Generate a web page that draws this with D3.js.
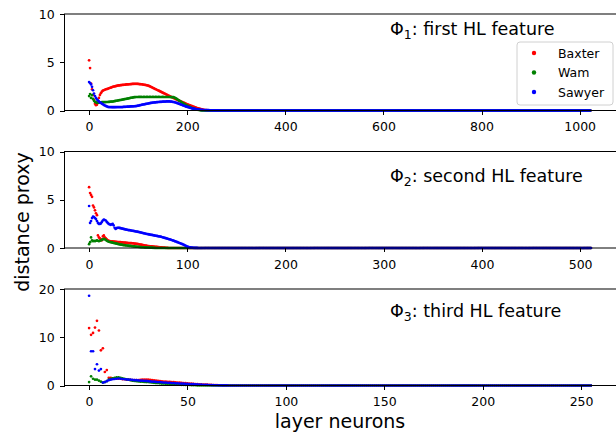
<!DOCTYPE html>
<meta charset="utf-8">
<style>
  body { margin: 0; background: #fff; }
  svg text { font-family: "DejaVu Sans", sans-serif; fill: #000; }
  .axis path, .axis line { stroke: #000; shape-rendering: crispEdges; }
  .axis text { font-size: 12.5px; }
</style>
<script src="https://d3js.org/d3.v7.min.js"></script>
<div id="chart"></div>
<script>

// robots and their colours (red, green, blue as in matplotlib 'r', 'g', 'b')
var robots = ["Baxter", "Wam", "Sawyer"];
var robotColors = ["#ff0000", "#008000", "#0000ff"];

// ---- first hidden layer: 1024 neurons, one value every 2 neurons, zero after the listed values
var neurons1 = 1024, step1 = 2;
var baxter1 = [5.2,4.4,2.8,2.2,1.6,1.1,0.7,0.55,0.6,0.9,
  1.3,1.6,1.8,1.95,2.05,2.1,2.15,2.2,2.22,2.25,
  2.3,2.33,2.37,2.4,2.45,2.48,2.5,2.52,2.55,2.57,
  2.6,2.6,2.62,2.63,2.65,2.66,2.67,2.68,2.7,2.7,
  2.71,2.72,2.73,2.74,2.75,2.75,2.76,2.76,2.76,2.76,
  2.75,2.74,2.73,2.72,2.71,2.69,2.67,2.65,2.63,2.61,
  2.58,2.55,2.5,2.45,2.4,2.35,2.3,2.25,2.2,2.15,
  2.1,2.05,2.0,1.95,1.9,1.85,1.8,1.75,1.7,1.65,
  1.6,1.55,1.5,1.45,1.4,1.35,1.3,1.25,1.2,1.15,
  1.1,1.05,1.0,0.96,0.91,0.87,0.82,0.78,0.73,0.69,
  0.65,0.61,0.57,0.53,0.49,0.45,0.41,0.37,0.33,0.29,
  0.26,0.23,0.2,0.17,0.14,0.11,0.09,0.07,0.05,0.04,
  0.03,0.02,0.01];
var wam1 = [1.5,1.7,1.3,1.6,1.2,1.0,0.9,0.85,0.8,0.8,
  0.82,0.84,0.85,0.86,0.87,0.87,0.87,0.87,0.88,0.88,
  0.89,0.9,0.91,0.92,0.93,0.95,0.97,0.99,1.01,1.03,
  1.05,1.07,1.09,1.11,1.13,1.15,1.17,1.19,1.21,1.23,
  1.25,1.27,1.3,1.32,1.34,1.36,1.38,1.39,1.4,1.4,
  1.4,1.41,1.4,1.41,1.4,1.4,1.41,1.4,1.4,1.41,
  1.4,1.4,1.41,1.4,1.4,1.41,1.4,1.4,1.41,1.4,
  1.4,1.41,1.4,1.4,1.4,1.41,1.4,1.4,1.4,1.4,
  1.4,1.4,1.4,1.39,1.39,1.38,1.38,1.34,1.29,1.23,
  1.16,1.09,1.02,0.95,0.88,0.81,0.74,0.68,0.62,0.56,
  0.5,0.45,0.4,0.35,0.3,0.26,0.22,0.18,0.15,0.12,
  0.09,0.07,0.05,0.03,0.02,0.01];
var sawyer1 = [2.95,2.85,2.7,2.45,2.1,1.75,1.5,1.3,1.15,1.05,
  0.95,0.85,0.78,0.72,0.65,0.58,0.52,0.47,0.42,0.38,
  0.36,0.35,0.35,0.34,0.34,0.34,0.34,0.34,0.35,0.35,
  0.35,0.35,0.36,0.36,0.36,0.37,0.38,0.38,0.39,0.4,
  0.4,0.41,0.42,0.42,0.43,0.43,0.44,0.45,0.46,0.48,
  0.5,0.52,0.55,0.57,0.6,0.62,0.64,0.66,0.68,0.7,
  0.72,0.74,0.76,0.78,0.8,0.82,0.83,0.84,0.85,0.86,
  0.87,0.88,0.89,0.9,0.9,0.91,0.92,0.93,0.93,0.94,
  0.94,0.94,0.94,0.93,0.92,0.9,0.88,0.86,0.83,0.8,
  0.76,0.72,0.68,0.64,0.6,0.56,0.52,0.48,0.44,0.4,
  0.37,0.34,0.31,0.28,0.25,0.22,0.2,0.18,0.16,0.14,
  0.12,0.1,0.09,0.08,0.07,0.06,0.05,0.05,0.04,0.04,
  0.03,0.03,0.03,0.02,0.02,0.02,0.02,0.01,0.01,0.01,
  0.01,0.01,0.01];

// ---- second hidden layer: 512 neurons, one value per neuron
var neurons2 = 512, step2 = 1;
var baxter2 = [6.3,5.7,5.5,5.3,4.4,4.2,3.9,3.6,3.4,1.3,
  1.1,1.0,0.9,0.8,1.2,1.3,1.1,1.0,0.9,0.8,
  0.75,0.72,0.7,0.7,0.68,0.66,0.66,0.65,0.64,0.62,
  0.62,0.6,0.6,0.58,0.58,0.56,0.56,0.55,0.54,0.53,
  0.52,0.52,0.5,0.5,0.48,0.48,0.46,0.45,0.44,0.42,
  0.4,0.38,0.36,0.34,0.32,0.3,0.28,0.26,0.24,0.22,
  0.2,0.19,0.18,0.17,0.16,0.15,0.14,0.13,0.12,0.11,
  0.1,0.09,0.08,0.07,0.06,0.05,0.04,0.03,0.02,0.02,
  0.01];
var wam2 = [0.4,0.6,1.1,0.8,0.7,0.75,0.7,0.75,0.8,0.75,
  0.7,0.75,0.8,0.85,0.9,0.95,0.9,0.85,0.75,0.7,
  0.65,0.62,0.6,0.58,0.55,0.52,0.5,0.48,0.45,0.43,
  0.4,0.38,0.36,0.34,0.32,0.3,0.29,0.28,0.26,0.25,
  0.24,0.22,0.21,0.2,0.18,0.17,0.16,0.15,0.14,0.13,
  0.12,0.11,0.1,0.09,0.08,0.08,0.07,0.06,0.06,0.05,
  0.05,0.04,0.04,0.03,0.03,0.02,0.02,0.01];
var sawyer2 = [4.35,2.6,2.8,3.1,3.25,3.2,3.1,3.0,2.8,2.6,
  2.5,2.5,2.55,2.7,2.85,2.95,2.9,2.85,2.7,2.6,
  2.5,2.45,2.4,2.45,2.5,2.35,2.1,1.97,2.05,2.1,
  2.1,2.08,2.05,2.03,2.0,1.98,1.95,1.93,1.9,1.88,
  1.86,1.85,1.83,1.81,1.79,1.77,1.75,1.73,1.71,1.69,
  1.67,1.65,1.62,1.6,1.57,1.55,1.52,1.5,1.47,1.45,
  1.43,1.41,1.39,1.37,1.35,1.33,1.31,1.29,1.27,1.25,
  1.23,1.21,1.19,1.17,1.14,1.11,1.08,1.05,1.02,0.99,
  0.96,0.93,0.9,0.87,0.83,0.8,0.76,0.72,0.68,0.64,
  0.6,0.56,0.52,0.48,0.44,0.4,0.35,0.3,0.25,0.2,
  0.15,0.11,0.08,0.06,0.04,0.03,0.02,0.02,0.01,0.01,
  0.01];

// ---- third hidden layer: 256 neurons, one value per neuron
var neurons3 = 256, step3 = 1;
var baxter3 = [11.9,10.5,10.9,12.0,13.4,11.4,7.3,7.7,2.8,3.2,
  1.6,1.6,1.5,1.5,1.4,1.4,1.4,1.3,1.3,1.2,
  1.2,1.15,1.1,1.1,1.1,1.1,1.15,1.2,1.2,1.2,
  1.2,1.15,1.1,1.05,1.0,0.95,0.9,0.85,0.8,0.8,
  0.75,0.75,0.7,0.7,0.65,0.6,0.6,0.55,0.5,0.5,
  0.45,0.4,0.4,0.35,0.3,0.3,0.25,0.25,0.2,0.2,
  0.2,0.15,0.15,0.1,0.1,0.1,0.05,0.05];
var wam3 = [0.7,1.9,1.4,1.2,1.2,1.0,0.8,0.6,0.7,0.9,
  1.2,1.4,1.5,1.6,1.7,1.7,1.6,1.5,1.4,1.3,
  1.2,1.1,1.0,0.95,0.9,0.85,0.8,0.8,0.75,0.7,
  0.7,0.65,0.6,0.55,0.5,0.5,0.45,0.4,0.4,0.35,
  0.35,0.3,0.3,0.25,0.25,0.2,0.2,0.15,0.15,0.1,
  0.1,0.1,0.05,0.05,0.05];
var sawyer3 = [18.6,7.1,7.1,3.4,4.4,3.1,3.4,0.6,0.7,0.9,
  1.1,1.2,1.3,1.35,1.4,1.45,1.4,1.35,1.3,1.25,
  1.2,1.2,1.15,1.1,1.1,1.05,1.0,1.0,0.95,0.95,
  0.9,0.85,0.8,0.8,0.75,0.7,0.7,0.65,0.6,0.6,
  0.55,0.55,0.5,0.5,0.45,0.45,0.4,0.4,0.38,0.35,
  0.33,0.3,0.3,0.28,0.25,0.22,0.2,0.18,0.16,0.14,
  0.12,0.1,0.08,0.06,0.05,0.04,0.03,0.02,0.02,0.01,
  0.01];

// axis ticks and titles
var xTicks1 = [0, 200, 400, 600, 800, 1000];
var xTicks2 = [0, 100, 200, 300, 400, 500];
var xTicks3 = [0, 50, 100, 150, 200, 250];
var yTicks1 = [0, 5, 10], yTicks2 = [0, 5, 10], yTicks3 = [0, 10, 20];
var yMax1 = 10, yMax2 = 10, yMax3 = 20;
var titles = [["1", ": first HL feature"], ["2", ": second HL feature"], ["3", ": third HL feature"]];

var panels = [
  {n: neurons1, step: step1, series: [baxter1, wam1, sawyer1], xTicks: xTicks1, yTicks: yTicks1, yMax: yMax1, title: titles[0]},
  {n: neurons2, step: step2, series: [baxter2, wam2, sawyer2], xTicks: xTicks2, yTicks: yTicks2, yMax: yMax2, title: titles[1]},
  {n: neurons3, step: step3, series: [baxter3, wam3, sawyer3], xTicks: xTicks3, yTicks: yTicks3, yMax: yMax3, title: titles[2]}
];

var width = 616, height = 435;
var left = 64, right = 616;
var tops = [14, 151.5, 289], panelH = 96.5;
var titleDy = [21, 30.5, 28];

var svg = d3.select("#chart").append("svg")
  .attr("width", width)
  .attr("height", height);

panels.forEach(function(p, k) {
  var top = tops[k], bottom = top + panelH;
  var last = p.n - 1;
  var x = d3.scaleLinear().domain([-0.05 * last, 1.05 * last]).range([left, right]);
  var y = d3.scaleLinear().domain([0, p.yMax]).range([bottom, top]);

  var g = svg.append("g");

  // points: listed values, zero for the remaining neurons
  p.series.forEach(function(vals, s) {
    var pts = [];
    for (var i = 0; i * p.step <= last; i++) {
      pts.push([i * p.step, i < vals.length ? vals[i] : 0]);
    }
    g.append("g").selectAll("circle")
      .data(pts)
      .enter()
      .append("circle")
        .attr("cx", function(d) { return x(d[0]); })
        .attr("cy", function(d) { return y(d[1]); })
        .attr("r", 1.35)
        .style("fill", robotColors[s]);
  });

  // frame
  g.append("rect")
    .attr("x", left + 0.5).attr("y", top)
    .attr("width", right - left).attr("height", panelH)
    .style("fill", "none").style("stroke", "#000").style("stroke-width", 1);

  g.append("g")
    .attr("class", "axis")
    .attr("transform", "translate(0," + bottom + ")")
    .call(d3.axisBottom(x).tickValues(p.xTicks).tickFormat(d3.format("d")).tickSize(4.4).tickPadding(7.3))
    .call(function(a) { a.select(".domain").remove(); });

  g.append("g")
    .attr("class", "axis")
    .attr("transform", "translate(" + (left + 0.5) + ",0)")
    .call(d3.axisLeft(y).tickValues(p.yTicks).tickFormat(d3.format("d")).tickSize(4.4).tickPadding(5.5))
    .call(function(a) { a.select(".domain").remove(); });

  // panel label with subscript
  var t = g.append("text")
    .attr("x", 390)
    .attr("y", top + titleDy[k])
    .style("font-size", "17.5px");
  t.append("tspan").text("\u03A6");
  t.append("tspan").attr("dy", 4).style("font-size", "12.5px").text(p.title[0]);
  t.append("tspan").attr("dy", -4).text(p.title[1]);
});

// legend in the first panel
var legend = svg.append("g").attr("transform", "translate(517,42)");
legend.append("rect")
  .attr("width", 96).attr("height", 63).attr("rx", 3)
  .style("fill", "#fff").style("fill-opacity", 0.8)
  .style("stroke", "#d0d0d0");
robots.forEach(function(name, s) {
  legend.append("circle")
    .attr("cx", 17).attr("cy", 11 + s * 19.5).attr("r", 2.2)
    .style("fill", robotColors[s]);
  legend.append("text")
    .attr("x", 41).attr("y", 15.5 + s * 19.5)
    .style("font-size", "12.5px")
    .text(name);
});

// axis titles
svg.append("text")
  .attr("transform", "translate(29,222) rotate(-90)")
  .attr("text-anchor", "middle")
  .style("font-size", "19px")
  .text("distance proxy");

svg.append("text")
  .attr("x", 340)
  .attr("y", 428)
  .attr("text-anchor", "middle")
  .style("font-size", "19px")
  .text("layer neurons");

</script>
